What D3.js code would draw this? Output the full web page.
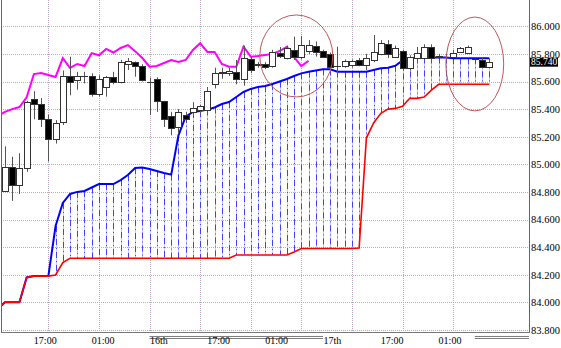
<!DOCTYPE html>
<html><head><meta charset="utf-8">
<script src="https://cdn.jsdelivr.net/npm/d3@7"></script>
<style>body{margin:0;background:#fff}svg{display:block}</style>
</head><body><svg id="c" width="561" height="348"></svg>
<script>
// ---- data (hourly bars 0..67) ----
const opens=[84.81,84.98,84.85,84.97,85.47,85.44,85.33,85.18,85.31,85.64,85.61,85.64,85.64,85.51,85.56,85.63,85.60,85.73,85.74,85.71,85.60,85.62,85.46,85.35,85.27,85.36,85.38,85.39,85.39,85.58,85.665,85.66,85.67,85.62,85.76,85.72,85.725,85.71,85.81,85.77,85.83,85.78,85.82,85.86,85.82,85.80,85.712,85.71,85.72,85.755,85.72,85.755,85.80,85.875,85.78,85.82,85.70,85.77,85.77,85.85,85.785,85.778,85.78,85.815,85.805,85.763,85.755,85.707];
const highs=[85.13,85.055,85.08,85.46,85.53,85.48,85.36,85.32,85.68,85.78,85.67,85.67,85.66,85.645,85.64,85.67,85.756,85.77,85.745,85.725,85.628,85.63,85.46,85.38,85.40,85.38,85.45,85.43,85.56,85.70,85.70,85.70,85.756,85.86,85.78,85.74,85.74,85.83,85.85,85.86,85.925,85.93,85.90,85.89,85.83,85.81,85.852,85.76,85.76,85.77,85.80,85.937,85.90,85.90,85.86,85.83,85.79,85.85,85.87,85.87,85.80,85.80,85.83,85.85,85.86,85.765,85.77,85.75];
const lows=[84.80,84.735,84.785,84.946,85.326,85.27,85.02,85.15,85.285,85.50,85.54,85.587,85.49,85.49,85.49,85.58,85.587,85.683,85.635,85.60,85.357,85.38,85.27,85.21,85.22,85.30,85.34,85.37,85.36,85.55,85.62,85.64,85.58,85.57,85.66,85.70,85.69,85.70,85.77,85.76,85.756,85.76,85.80,85.78,85.77,85.68,85.642,85.70,85.70,85.71,85.683,85.74,85.79,85.77,85.77,85.68,85.68,85.75,85.76,85.74,85.77,85.77,85.77,85.81,85.80,85.755,85.70,85.70];
const closes=[84.98,84.85,84.97,85.45,85.44,85.33,85.18,85.30,85.64,85.60,85.64,85.638,85.51,85.62,85.63,85.595,85.74,85.75,85.71,85.61,85.597,85.46,85.33,85.265,85.38,85.33,85.41,85.42,85.53,85.665,85.667,85.678,85.62,85.77,85.68,85.725,85.707,85.815,85.787,85.84,85.78,85.864,85.864,85.816,85.78,85.707,85.71,85.75,85.75,85.72,85.772,85.812,85.877,85.797,85.84,85.696,85.78,85.809,85.852,85.772,85.78,85.775,85.81,85.842,85.852,85.76,85.707,85.74];

// lagging span (magenta), first value sits at bar -1
const laggingStart=-1;
const lagging=[85.35,85.38,85.40,85.415,85.485,85.654,85.662,85.647,85.633,85.77,85.698,85.727,85.712,85.806,85.79,85.836,85.81,85.843,85.864,85.82,85.77,85.707,85.712,85.734,85.756,85.741,85.756,85.828,85.877,85.814,85.814,85.727,85.707,85.707,85.852,85.78,85.785,85.792,85.80,85.821,85.852,85.777,85.712,85.75];

// leading spans, first value sits at bar -1
const spanStart=-1;
const spanA=[83.955,84.0,84.0,84.0,84.18,84.19,84.19,84.19,84.553,84.72,84.785,84.80,84.807,84.832,84.857,84.857,84.857,84.886,84.922,84.973,84.977,84.966,84.951,84.937,84.925,85.21,85.345,85.379,85.386,85.397,85.412,85.437,85.451,85.488,85.524,85.546,85.56,85.567,85.582,85.60,85.618,85.64,85.659,85.671,85.68,85.688,85.688,85.671,85.671,85.671,85.671,85.671,85.683,85.696,85.70,85.714,85.752,85.768,85.774,85.774,85.774,85.774,85.774,85.768,85.768,85.768,85.768,85.768,85.768];
const spanB=[83.955,84.0,84.0,84.0,84.18,84.19,84.19,84.19,84.198,84.288,84.319,84.319,84.319,84.319,84.319,84.319,84.319,84.319,84.319,84.319,84.319,84.319,84.319,84.319,84.319,84.319,84.319,84.319,84.319,84.319,84.319,84.319,84.319,84.343,84.343,84.343,84.343,84.343,84.343,84.343,84.343,84.364,84.39,84.39,84.39,84.39,84.39,84.39,84.39,84.39,84.393,85.19,85.30,85.37,85.40,85.405,85.42,85.478,85.478,85.488,85.538,85.58,85.58,85.58,85.58,85.58,85.58,85.58,85.58];

const priceTicks=[83.8,84.0,84.2,84.4,84.6,84.8,85.0,85.2,85.4,85.6,85.8,86.0];
const gridBars=[6,13,20,27,34,41,48,55,62];
const timeLabels=["17:00","01:00","16th","17:00","01:00","17th","17:00","01:00"];
const timeLabelBars=[5.5,13.5,20,29.5,37.5,44,53.5,61.5];
const dayLabels=["16th","17th"];
const dayBands=[[20,44],[65,72.5]];
const lastPrice=85.740;
const highlights=[{bar:40.3,price:85.785,rBars:5.05,rPrice:0.297},{bar:65,price:85.727,rBars:4.0,rPrice:0.34}];

// ---- layout ----
const L=1, R=529, T=0, B=332;
const svg=d3.select("#c");
const x=d3.scaleLinear().domain([-0.69,72.5]).range([0,529]);
const y=d3.scaleLinear().domain([83.8,86.0]).range([329.9,26.3]);
const font="'Liberation Serif','Times New Roman',serif";

svg.append("defs").append("clipPath").attr("id","clip")
  .append("rect").attr("x",L+1).attr("y",T).attr("width",R-L-1).attr("height",B-T);

const g=svg.append("g");
// grid lines (two-colour dotted)
const grid=g.append("g");
priceTicks.forEach(p=>{
  const yy=Math.round(y(p))+0.5;
  grid.append("line").attr("x1",L).attr("x2",R).attr("y1",yy).attr("y2",yy)
    .attr("stroke","#e59ab0").attr("stroke-dasharray","1,3");
  grid.append("line").attr("x1",L+2).attr("x2",R).attr("y1",yy).attr("y2",yy)
    .attr("stroke","#8fc0c0").attr("stroke-dasharray","1,3");
});
gridBars.forEach(b=>{
  const xx=Math.round(x(b))+0.5;
  grid.append("line").attr("x1",xx).attr("x2",xx).attr("y1",T).attr("y2",B).attr("stroke","#e59ab0").attr("stroke-dasharray","1,3");
  grid.append("line").attr("x1",xx).attr("x2",xx).attr("y1",T+2).attr("y2",B).attr("stroke","#8fc0c0").attr("stroke-dasharray","1,3");
});

const plot=g.append("g").attr("clip-path","url(#clip)");

// cloud verticals
const cloudIdx=d3.range(spanA.length).filter(i=>spanA[i]-spanB[i]>0.005 && i+spanStart>=0);
const cv=plot.append("g");
cv.selectAll("line.base").data(cloudIdx).join("line").attr("class","base")
  .attr("x1",i=>Math.round(x(i+spanStart))+0.5).attr("x2",i=>Math.round(x(i+spanStart))+0.5)
  .attr("y1",i=>y(spanA[i])).attr("y2",i=>y(spanB[i]))
  .attr("stroke","#c8c8f4").attr("stroke-width",1);
cv.selectAll("line.dash").data(cloudIdx).join("line").attr("class","dash")
  .attr("x1",i=>Math.round(x(i+spanStart))+0.5).attr("x2",i=>Math.round(x(i+spanStart))+0.5)
  .attr("y1",i=>y(spanA[i])).attr("y2",i=>y(spanB[i]))
  .attr("stroke","#4040ff").attr("stroke-width",1).attr("stroke-dasharray","6,3,1,3");

// span lines
const spanLine=d3.line().x((d,i)=>x(i+spanStart)).y(d=>y(d));
plot.append("path").datum(spanA).attr("d",spanLine).attr("fill","none").attr("stroke","#0000ff").attr("stroke-width",2);
plot.append("path").datum(spanB).attr("d",spanLine).attr("fill","none").attr("stroke","#ff0000").attr("stroke-width",1.6);

// lagging span
const lagLine=d3.line().x((d,i)=>x(i+laggingStart)).y(d=>y(d));
plot.append("path").datum(lagging).attr("d",lagLine).attr("fill","none").attr("stroke","#ff00ff").attr("stroke-width",2);

// candles
const bw=6;
const cg=plot.append("g");
const idx=d3.range(closes.length);
cg.selectAll("line.wick").data(idx).join("line").attr("class","wick")
  .attr("x1",i=>Math.round(x(i))+0.5).attr("x2",i=>Math.round(x(i))+0.5)
  .attr("y1",i=>y(highs[i])).attr("y2",i=>y(lows[i]))
  .attr("stroke","#555").attr("stroke-width",1);
cg.selectAll("rect").data(idx).join("rect")
  .attr("x",i=>Math.round(x(i))-bw/2+0.5)
  .attr("y",i=>Math.round(y(Math.max(opens[i],closes[i])))+0.5)
  .attr("width",bw)
  .attr("height",i=>Math.max(0.01,Math.round(y(Math.min(opens[i],closes[i])))-Math.round(y(Math.max(opens[i],closes[i])))))
  .attr("fill",i=>closes[i]>=opens[i]?"#fff":"#000")
  .attr("stroke","#333").attr("stroke-width",1);

// highlight ellipses
plot.selectAll("ellipse").data(highlights).join("ellipse")
  .attr("cx",d=>x(d.bar)).attr("cy",d=>y(d.price))
  .attr("rx",d=>x(d.bar+d.rBars)-x(d.bar)).attr("ry",d=>y(d.price-d.rPrice)-y(d.price))
  .attr("fill","none").attr("stroke","#c05858").attr("stroke-width",1);

// frame
g.append("line").attr("x1",L+0.5).attr("x2",L+0.5).attr("y1",T).attr("y2",B).attr("stroke","#666");
g.append("line").attr("x1",R+0.5).attr("x2",R+0.5).attr("y1",T).attr("y2",B+0.5).attr("stroke","#666");
g.append("line").attr("x1",L).attr("x2",R+1).attr("y1",B+0.5).attr("y2",B+0.5).attr("stroke","#777");

// price axis
const ya=svg.append("g").attr("transform",`translate(${R+1},0)`)
  .call(d3.axisRight(y).tickValues(priceTicks).tickFormat(d3.format(".3f")).tickSize(0).tickPadding(1));
ya.select(".domain").remove();
ya.selectAll("text").attr("font-family",font).attr("font-size",10.5).attr("fill","#000");

// last price tag
const tag=svg.append("g").attr("transform",`translate(${R+1},${y(lastPrice)})`);
tag.append("rect").attr("x",0).attr("y",-4.5).attr("width",28).attr("height",9).attr("fill","#000");
tag.append("text").attr("x",1).attr("y",0).attr("dy","0.34em").text(d3.format(".3f")(lastPrice))
  .attr("font-family",font).attr("font-size",9.5).attr("fill","#fff");

// day underline bands
dayBands.forEach(([a,b])=>{
  [336.5,338.5].forEach(yy=>{
    svg.append("line").attr("x1",x(a)).attr("x2",Math.min(R,x(b))).attr("y1",yy).attr("y2",yy).attr("stroke","#808080");
  });
});

// time axis
const xa=svg.append("g").attr("transform",`translate(0,${B})`)
  .call(d3.axisBottom(x).tickValues(timeLabelBars).tickFormat((d,i)=>timeLabels[i]).tickSize(0).tickPadding(5));
xa.select(".domain").remove();
xa.selectAll("text").attr("font-family",font).attr("font-size",10).attr("fill","#000")
  .attr("text-anchor",(d,i)=>dayLabels.includes(timeLabels[i])?"start":"middle");
</script></body></html>
